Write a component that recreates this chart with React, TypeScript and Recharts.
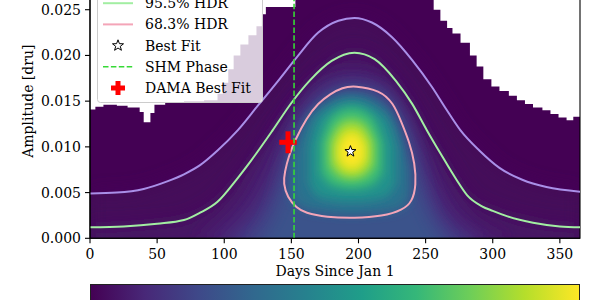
import React from "react";
import {
  ComposedChart,
  Area,
  Line,
  Scatter,
  XAxis,
  YAxis,
  CartesianGrid,
  ReferenceArea,
  ErrorBar,
} from "recharts";

// ---- data ----
const dayTicks = [0, 50, 100, 150, 200, 250, 300, 350];
const ampTicks = [0, 0.005, 0.01, 0.015, 0.02, 0.025];

// contour lines [day, amplitude]
const hdr997: [number, number][] = [
  [0, 0.0049], [20, 0.005], [40, 0.0054], [57, 0.0062], [70, 0.007], [82, 0.008],
  [95, 0.0096], [110, 0.0118], [125, 0.0145], [140, 0.0172], [154, 0.0198],
  [170, 0.0225], [185, 0.0238], [197, 0.0241], [210, 0.0236], [225, 0.022],
  [240, 0.0195], [255, 0.0165], [265, 0.0142], [276, 0.0118], [290, 0.0096],
  [305, 0.0077], [322, 0.0064], [340, 0.0056], [365, 0.0051],
];
const hdr955: [number, number][] = [
  [0, 0.0012], [25, 0.0013], [50, 0.0016], [70, 0.002], [82, 0.0028], [95, 0.004],
  [109, 0.0064], [120, 0.0085], [136, 0.0118], [150, 0.0148], [164, 0.0173],
  [180, 0.0194], [197, 0.0203], [212, 0.0196], [228, 0.0172], [240, 0.0147],
  [251, 0.0118], [261, 0.0093], [273, 0.0064], [281, 0.0047], [292, 0.0035],
  [300, 0.003], [311, 0.0024], [330, 0.0017], [350, 0.0013], [365, 0.0012],
];
const hdr683: [number, number][] = [
  [197, 0.0167], [216, 0.0162], [226, 0.0148], [232, 0.0127], [238, 0.0105],
  [242, 0.0082], [243, 0.0058], [240, 0.004], [233, 0.0031], [218, 0.0024],
  [197, 0.0022], [176, 0.0023], [160, 0.0028], [154, 0.0033], [147, 0.0045],
  [144, 0.006], [145, 0.0072], [148, 0.009], [153, 0.0108], [161, 0.0131],
  [170, 0.0148], [179, 0.0158], [188, 0.0165],
];

// density shading levels, outer to inner: [day, low, high]
const FLOOR = -0.004;
const density1: [number, number][] = [
  [85, 0], [100, 0.002], [115, 0.0045], [130, 0.0085], [145, 0.0125], [160, 0.0155],
  [175, 0.0175], [195, 0.0182], [215, 0.0175], [230, 0.015], [245, 0.011],
  [260, 0.0065], [275, 0.003], [290, 0.001], [305, 0],
];
const density2: [number, number][] = [
  [105, 0], [120, 0.002], [135, 0.0055], [145, 0.009], [155, 0.0125], [170, 0.0155],
  [195, 0.017], [220, 0.0158], [235, 0.0125], [245, 0.0085], [255, 0.0045],
  [268, 0.0015], [285, 0],
];
const density3: [number, number][] = [
  [125, 0], [138, 0.003], [145, 0.0065], [150, 0.0095], [160, 0.0128], [175, 0.0152],
  [195, 0.0163], [215, 0.0158], [228, 0.0135], [238, 0.01], [244, 0.006],
  [252, 0.0025], [265, 0],
];
const density4: [number, number, number][] = [
  [150, 0.0045, 0.0085], [158, 0.0033, 0.012], [175, 0.0028, 0.0148],
  [195, 0.0026, 0.0158], [218, 0.0028, 0.0146], [232, 0.0033, 0.011], [238, 0.0045, 0.0075],
];
const density5: [number, number, number][] = [
  [163, 0.006, 0.01], [170, 0.0045, 0.0132], [195, 0.004, 0.015],
  [220, 0.0045, 0.0132], [228, 0.006, 0.01],
];
const density6: [number, number, number][] = [
  [172, 0.0072, 0.0105], [180, 0.0058, 0.0133], [195, 0.0054, 0.0143],
  [210, 0.0058, 0.0133], [218, 0.0072, 0.0105],
];
const density7: [number, number, number][] = [
  [178, 0.008, 0.0105], [186, 0.0067, 0.0126], [195, 0.0064, 0.0131],
  [204, 0.0067, 0.0126], [212, 0.008, 0.0105],
];
const density8: [number, number, number][] = [
  [183, 0.0084, 0.0104], [189, 0.0073, 0.0119], [195, 0.0071, 0.0122],
  [201, 0.0073, 0.0119], [207, 0.0084, 0.0104],
];
const density9: [number, number, number][] = [
  [186, 0.0087, 0.0101], [191, 0.0079, 0.0112], [195, 0.0077, 0.0114],
  [199, 0.0079, 0.0112], [204, 0.0087, 0.0101],
];

// empty (no samples) regions: [day, lower edge]
const TOP = 0.031;
const emptyLeft: [number, number][] = [
  [0, 0.0141], [4, 0.0144], [10, 0.0146], [20, 0.0145], [28, 0.0143], [37, 0.0138],
  [40, 0.0127], [45, 0.0137], [48, 0.0146], [56, 0.0149], [70, 0.015], [85, 0.0151],
  [95, 0.0158], [99, 0.017], [103, 0.0185], [107, 0.02], [112, 0.0212], [118, 0.0222],
  [124, 0.0232], [128, 0.0245], [131, 0.0253], [153, TOP],
];
const emptyRight: [number, number][] = [
  [250, TOP], [252, 0.0262], [256, 0.025], [261, 0.0238], [266, 0.023], [270, 0.0224],
  [276, 0.0214], [283, 0.02], [288, 0.0188], [293, 0.0174], [299, 0.0166],
  [305, 0.0161], [312, 0.0156], [318, 0.0151], [324, 0.0147], [330, 0.0143],
  [337, 0.014], [343, 0.0136], [349, 0.0132], [355, 0.0129], [360, 0.0133],
  [365, 0.0137], [366, 0.0137],
];

const bestFit = [{ d: 194, a: 0.0095 }];
const damaFit = [{ d: 147.5, a: 0.0105, ed: 6.5, ea: 0.0012 }];
const shmPhase = 152;

const legendLabels = ["99.7% HDR", "95.5% HDR", "68.3% HDR", "Best Fit", "SHM Phase", "DAMA Best Fit"];

// ---- styling ----
const FONT = "DejaVu Serif";
const C997 = "#a98fe8";
const C955 = "#a2eea2";
const C683 = "#f4a5b8";
const CSHM = "#36d936";
const viridis = [
  "#440154", "#482878", "#3e4989", "#31688e", "#26828e",
  "#1f9e89", "#35b779", "#6ece58", "#b5de2b", "#fde725",
];

const pts = (rows: [number, number][]) => rows.map(([d, a]) => ({ d, a }));
const floorRange = (rows: [number, number][]) => rows.map(([d, hi]) => ({ d, r: [FLOOR, hi] }));
const range = (rows: [number, number, number][]) => rows.map(([d, lo, hi]) => ({ d, r: [lo, hi] }));
const topRange = (rows: [number, number][]) => rows.map(([d, lo]) => ({ d, r: [lo, TOP] }));

const starPoints = (cx: number, cy: number, R: number, r: number) => {
  const p: string[] = [];
  for (let i = 0; i < 10; i++) {
    const ang = -Math.PI / 2 + (i * Math.PI) / 5;
    const rad = i % 2 === 0 ? R : r;
    p.push(`${cx + rad * Math.cos(ang)},${cy + rad * Math.sin(ang)}`);
  }
  return p.join(" ");
};

const StarShape = (props: any) => {
  const { cx, cy } = props;
  if (cx == null || cy == null) return <g />;
  return <polygon points={starPoints(cx, cy, 5.8, 2.4)} fill="#fff" stroke="#000" strokeWidth={1} />;
};

const NoShape = () => <g />;

const densityLayers = [
  { data: floorRange(density1), color: "#482173", cls: "dens-w" },
  { data: floorRange(density2), color: "#433e85", cls: "dens-w" },
  { data: floorRange(density3), color: "#3b528b", cls: "dens-w" },
  { data: range(density4), color: "#2c718e", cls: "dens-n" },
  { data: range(density5), color: "#21918c", cls: "dens-n" },
  { data: range(density6), color: "#3bbb75", cls: "dens-n" },
  { data: range(density7), color: "#86d549", cls: "dens-n" },
  { data: range(density8), color: "#c8e020", cls: "dens-n" },
  { data: range(density9), color: "#fde725", cls: "dens-n" },
];

const Legend = () => {
  const rowY = (i: number) => 11 + i * 21.2;
  return (
    <svg
      width={166}
      height={132}
      style={{ position: "absolute", left: 97, top: -29, overflow: "visible" }}
    >
      <rect x={0.5} y={0.5} width={165} height={131} rx={3} fill="rgba(255,255,255,0.8)" stroke="#cccccc" />
      <line x1={6} x2={36} y1={rowY(0)} y2={rowY(0)} stroke={C997} strokeWidth={2} />
      <line x1={6} x2={36} y1={rowY(1)} y2={rowY(1)} stroke={C955} strokeWidth={2} />
      <line x1={6} x2={36} y1={rowY(2)} y2={rowY(2)} stroke={C683} strokeWidth={2} />
      <polygon points={starPoints(21, rowY(3), 5.8, 2.4)} fill="#fff" stroke="#000" strokeWidth={1} />
      <line x1={6} x2={36} y1={rowY(4)} y2={rowY(4)} stroke={CSHM} strokeWidth={1.6} strokeDasharray="5.5 2.4" />
      <line x1={14} x2={28} y1={rowY(5)} y2={rowY(5)} stroke="#ff0000" strokeWidth={5} />
      <line x1={21} x2={21} y1={rowY(5) - 7} y2={rowY(5) + 7} stroke="#ff0000" strokeWidth={5} />
      {legendLabels.map((t, i) => (
        <text key={t} x={48} y={rowY(i)} dominantBaseline="central" fontFamily={FONT} fontSize={14} fill="#000">
          {t}
        </text>
      ))}
    </svg>
  );
};

export default function App() {
  return (
    <div style={{ position: "absolute", left: 0, top: 0, width: 600, height: 300, overflow: "hidden", background: "#fff" }}>
      <style>{`
        .dens-w .recharts-area-area { filter: url(#blurWide); }
        .dens-n .recharts-area-area { filter: url(#blurNarrow); }
      `}</style>
      <svg width={0} height={0} style={{ position: "absolute" }}>
        <defs>
          <filter id="blurWide" filterUnits="userSpaceOnUse" x={-100} y={-100} width={800} height={600}>
            <feGaussianBlur stdDeviation={9} />
          </filter>
          <filter id="blurNarrow" filterUnits="userSpaceOnUse" x={-100} y={-100} width={800} height={600}>
            <feGaussianBlur stdDeviation={5} />
          </filter>
        </defs>
      </svg>
      <div style={{ position: "absolute", left: 0, top: -40 }}>
        <ComposedChart width={600} height={340} margin={{ top: 4, right: 20, bottom: 21.7, left: 0 }}>
          <CartesianGrid fill="#440154" stroke="none" horizontal={false} vertical={false} />
          <XAxis
            type="number"
            dataKey="d"
            domain={[0, 365]}
            ticks={dayTicks}
            allowDataOverflow
            height={40}
            tickSize={5}
            tickMargin={6}
            axisLine={{ stroke: "#000", strokeWidth: 1.1 }}
            tickLine={{ stroke: "#000", strokeWidth: 1.1 }}
            tick={{ fontSize: 14, fill: "#000", fontFamily: FONT }}
            label={{
              content: (p: any) => (
                <text
                  x={p.viewBox.x + p.viewBox.width / 2}
                  y={p.viewBox.y + 33}
                  textAnchor="middle"
                  dominantBaseline="central"
                  fontFamily={FONT}
                  fontSize={14}
                  fill="#000"
                >
                  Days Since Jan 1
                </text>
              ),
            }}
          />
          <YAxis
            type="number"
            dataKey="a"
            domain={[0, 0.03]}
            ticks={ampTicks}
            allowDataOverflow
            width={90}
            tickSize={5}
            tickMargin={4}
            tickFormatter={(v: number) => v.toFixed(3)}
            axisLine={{ stroke: "#000", strokeWidth: 1.1 }}
            tickLine={{ stroke: "#000", strokeWidth: 1.1 }}
            tick={{ fontSize: 14, fill: "#000", fontFamily: FONT }}
            label={{
              content: (p: any) => (
                <text
                  x={28}
                  y={p.viewBox.y + p.viewBox.height / 2}
                  textAnchor="middle"
                  dominantBaseline="central"
                  transform={`rotate(-90, 28, ${p.viewBox.y + p.viewBox.height / 2})`}
                  fontFamily={FONT}
                  fontSize={14}
                  fill="#000"
                >
                  Amplitude [dru]
                </text>
              ),
            }}
          />

          {/* density shading */}
          <Area
            data={floorRange(hdr997)}
            dataKey="r"
            type="monotone"
            className="dens-w"
            fill="#45075a"
            fillOpacity={1}
            stroke="none"
            isAnimationActive={false}
            activeDot={false}
          />
          <Area
            data={floorRange(hdr955)}
            dataKey="r"
            type="monotone"
            className="dens-w"
            fill="#471365"
            fillOpacity={1}
            stroke="none"
            isAnimationActive={false}
            activeDot={false}
          />
          {densityLayers.map((l, i) => (
            <Area
              key={i}
              data={l.data}
              dataKey="r"
              type="monotone"
              className={l.cls}
              fill={l.color}
              fillOpacity={1}
              stroke="none"
              isAnimationActive={false}
              activeDot={false}
            />
          ))}

          {/* regions with no samples */}
          <Area data={topRange(emptyLeft)} dataKey="r" type="stepAfter" fill="#fff" fillOpacity={1} stroke="none" isAnimationActive={false} activeDot={false} />
          <Area data={topRange(emptyRight)} dataKey="r" type="stepAfter" fill="#fff" fillOpacity={1} stroke="none" isAnimationActive={false} activeDot={false} />

          {/* HDR contours */}
          <Line data={pts(hdr997)} dataKey="a" type="monotone" stroke={C997} strokeWidth={2} dot={false} activeDot={false} isAnimationActive={false} />
          <Line data={pts(hdr955)} dataKey="a" type="monotone" stroke={C955} strokeWidth={2} dot={false} activeDot={false} isAnimationActive={false} />
          <Line data={pts(hdr683)} dataKey="a" type="basisClosed" stroke={C683} strokeWidth={2} dot={false} activeDot={false} isAnimationActive={false} />

          <Scatter data={damaFit} dataKey="a" shape={NoShape} isAnimationActive={false}>
            <ErrorBar dataKey="ed" direction="x" width={0} stroke="#ff0000" strokeWidth={5} />
            <ErrorBar dataKey="ea" direction="y" width={0} stroke="#ff0000" strokeWidth={5} />
          </Scatter>

          <Line
            data={[{ d: shmPhase, a: 0 }, { d: shmPhase, a: 0.03 }]}
            dataKey="a"
            stroke={CSHM}
            strokeWidth={1.6}
            strokeDasharray="5.5 2.4"
            dot={false}
            activeDot={false}
            isAnimationActive={false}
          />

          <Scatter data={bestFit} dataKey="a" shape={StarShape} isAnimationActive={false} />

          <ReferenceArea x1={0} x2={365} y1={0} y2={0.03} fill="none" stroke="#000" strokeWidth={1.1} />
        </ComposedChart>
      </div>
      <Legend />
      <div
        style={{
          position: "absolute",
          left: 90,
          top: 284,
          width: 490,
          height: 40,
          boxSizing: "border-box",
          border: "1px solid #222",
          background: `linear-gradient(to right, ${viridis.join(", ")})`,
        }}
      />
    </div>
  );
}
